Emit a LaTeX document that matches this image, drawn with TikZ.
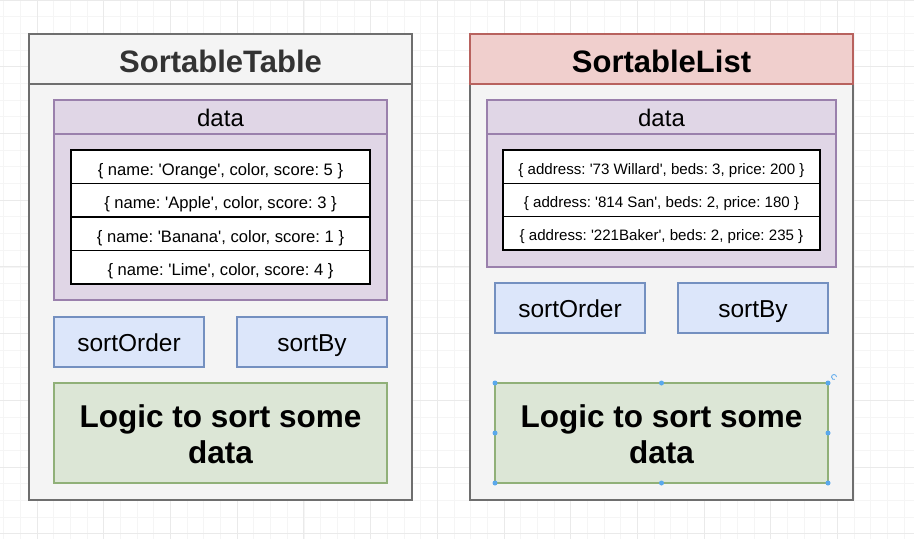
\documentclass[tikz,border=0pt]{standalone}
\usepackage{fontspec}
\setmainfont{Liberation Sans}[Ligatures=TeXOff]
\definecolor{gridminor}{HTML}{F5F5F5}
\definecolor{gridmajor}{HTML}{EAEAEA}
\definecolor{contfill}{HTML}{F4F4F4}
\definecolor{contline}{HTML}{6E6E6E}
\definecolor{redfill}{HTML}{F0CFCD}
\definecolor{redline}{HTML}{B8625E}
\definecolor{purpfill}{HTML}{E0D6E6}
\definecolor{purpline}{HTML}{9A80AC}
\definecolor{bluefill}{HTML}{DCE6FA}
\definecolor{blueline}{HTML}{7490C0}
\definecolor{greenfill}{HTML}{DCE6D6}
\definecolor{greenline}{HTML}{90B078}
\definecolor{handle}{HTML}{5AA8EC}
\definecolor{titlegray}{HTML}{333333}
\begin{document}
\frenchspacing
\begin{tikzpicture}[x=1pt,y=-1pt,
  bx/.style={rectangle, anchor=north west, inner sep=0pt, outer sep=0pt, align=center, line width=1.5pt},
  cont/.style={bx, draw=contline, fill=contfill},
  redhead/.style={bx, draw=redline, fill=redfill},
  grayhead/.style={bx, draw=contline, fill=contfill},
  purp/.style={bx, draw=purpline, fill=purpfill},
  rowbox/.style={bx, draw=black, fill=white, line width=1.6pt},
  bluebox/.style={bx, draw=blueline, fill=bluefill},
  greenbox/.style={bx, draw=greenline, fill=greenfill},
  titlefont/.style={font=\fontsize{31}{36}\selectfont\bfseries, text height=27.2pt, text depth=0pt},
  datafont/.style={font=\fontsize{24}{28}\selectfont, text height=19.2pt, text depth=0pt},
  fieldfont/.style={font=\fontsize{24.5}{28}\selectfont, text height=19.5pt, text depth=0pt},
  lrowfont/.style={font=\fontsize{16.6}{20}\selectfont, text height=16.9pt, text depth=0pt},
  rrowfont/.style={font=\fontsize{15.1}{18}\selectfont, text height=14.8pt, text depth=0pt},
  logicfont/.style={font=\fontsize{31.5}{36}\selectfont\bfseries},
  hdot/.style={circle, fill=handle, inner sep=0pt, minimum size=5pt}]
\useasboundingbox (0,0) rectangle (914,539);
\fill[white] (0,0) rectangle (914,539);
% grid
\foreach \i in {0,...,55} {
  \draw[gridminor, line width=0.6pt] ({3.65+\i*16.675},0) -- ({3.65+\i*16.675},539);
}
\foreach \i in {0,...,33} {
  \draw[gridminor, line width=0.6pt] (0,{\i*16.675}) -- (914,{\i*16.675});
}
\foreach \i in {0,...,13} {
  \draw[gridmajor, line width=0.8pt] ({37+\i*66.7-66.7},0) -- ({37+\i*66.7-66.7},539);
}
\foreach \i in {0,...,8} {
  \draw[gridmajor, line width=0.8pt] (0,{\i*66.7}) -- (914,{\i*66.7});
}

% ---------- SortableTable ----------
\node[cont, minimum width=383pt, minimum height=466pt] (lout) at (29,34) {};
\node[grayhead, minimum width=383pt, minimum height=50pt, titlefont, text=titlegray] (lhead) at (29,34) {SortableTable};
\node[purp, minimum width=333pt, minimum height=200pt] (ldata) at (54,100) {};
\node[purp, minimum width=333pt, minimum height=34pt, datafont] (ldatah) at (54,100) {data};
\node[rowbox, minimum width=299pt, minimum height=33.5pt, lrowfont] (lr1) at (71,150) {\{ name: 'Orange', color, score: 5 \}};
\node[rowbox, minimum width=299pt, minimum height=33.5pt, lrowfont] (lr2) at (71,183.5) {\{ name: 'Apple', color, score: 3 \}};
\node[rowbox, minimum width=299pt, minimum height=33.5pt, lrowfont] (lr3) at (71,217) {\{ name: 'Banana', color, score: 1 \}};
\node[rowbox, minimum width=299pt, minimum height=33.5pt, lrowfont] (lr4) at (71,250.5) {\{ name: 'Lime', color, score: 4 \}};
\node[bluebox, minimum width=150pt, minimum height=50pt, fieldfont] (lso) at (54,317) {sortOrder};
\node[bluebox, minimum width=150pt, minimum height=50pt, fieldfont] (lsb) at (237,317) {sortBy};
\node[greenbox, minimum width=333pt, minimum height=100pt] (llog) at (54,383) {};
\node[logicfont, align=center, inner sep=0pt] (llogt) at ([yshift=-1.5pt]llog.center) {Logic to sort some\\data};

% ---------- SortableList ----------
\node[cont, minimum width=383pt, minimum height=466pt] (rout) at (470,34) {};
\node[redhead, minimum width=383pt, minimum height=50pt, titlefont] (rhead) at (470,34) {SortableList};
\node[purp, minimum width=349pt, minimum height=167pt] (rdata) at (487,100) {};
\node[purp, minimum width=349pt, minimum height=34pt, datafont] (rdatah) at (487,100) {data};
\node[rowbox, minimum width=317pt, minimum height=33.33pt, rrowfont] (rr1) at (503,150) {\{ address: '73 Willard', beds: 3, price: 200 \}};
\node[rowbox, minimum width=317pt, minimum height=33.33pt, rrowfont] (rr2) at (503,183.33) {\{ address: '814 San', beds: 2, price: 180 \}};
\node[rowbox, minimum width=317pt, minimum height=33.33pt, rrowfont] (rr3) at (503,216.67) {\{ address: '221Baker', beds: 2, price: 235 \}};
\node[bluebox, minimum width=150pt, minimum height=50pt, fieldfont] (rso) at (495,283) {sortOrder};
\node[bluebox, minimum width=150pt, minimum height=50pt, fieldfont] (rsb) at (678,283) {sortBy};
\node[greenbox, minimum width=333pt, minimum height=100pt] (rlog) at (495,383) {};
\node[logicfont, align=center, inner sep=0pt] (rlogt) at ([yshift=-1.5pt]rlog.center) {Logic to sort some\\data};

% selection handles
\foreach \a in {north west,north,north east,west,east,south west,south,south east} {
  \node[hdot] at (rlog.\a) {};
}
\coordinate (rot) at ([xshift=6pt,yshift=6pt]rlog.north east);
\draw[handle, line width=0.8pt] ([xshift=2.5pt]rot) arc[start angle=0, end angle=290, radius=2.5pt];
\end{tikzpicture}
\end{document}
